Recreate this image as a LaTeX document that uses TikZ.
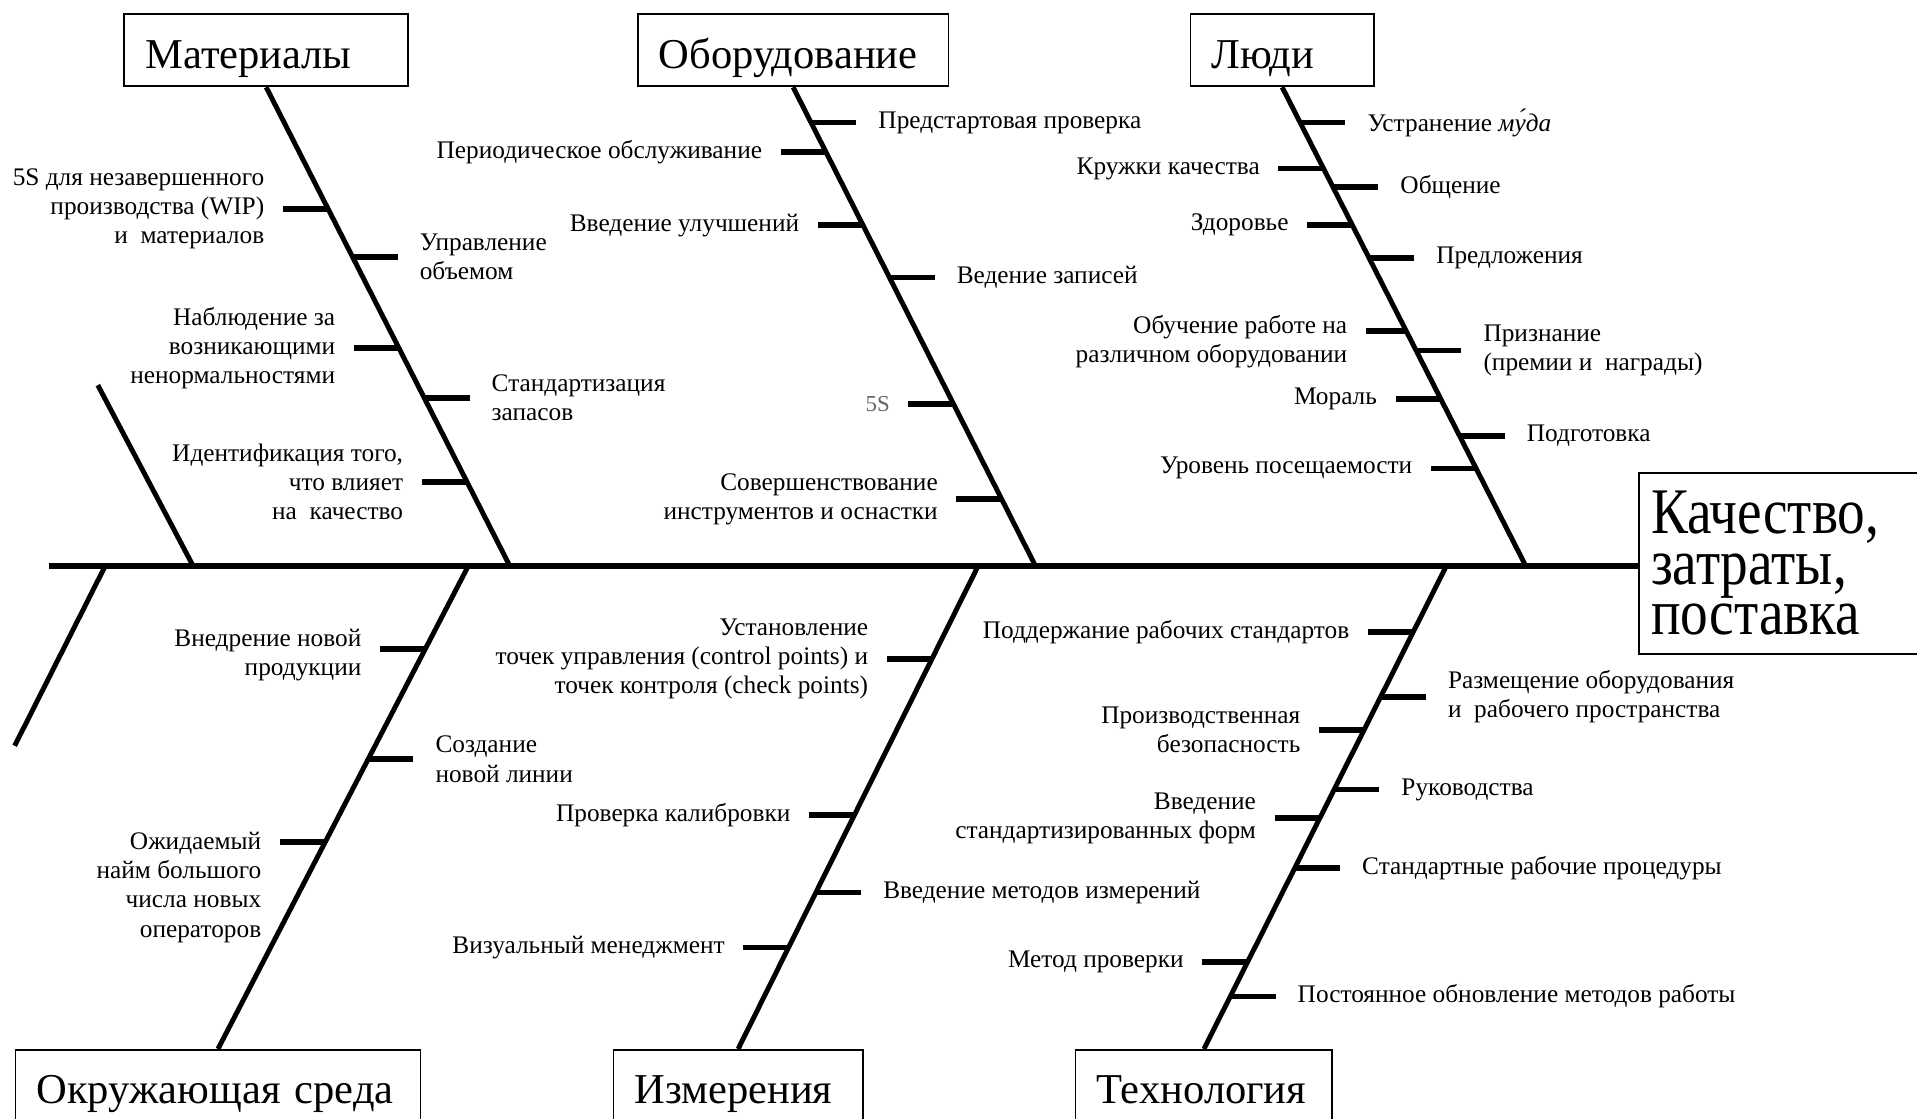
\documentclass[tikz,border=0pt]{standalone}
\usepackage{fontspec}
\setmainfont{Liberation Serif}
\newfontfamily\efffont{Liberation Serif}[FakeStretch=0.85]
\usetikzlibrary{positioning,calc}

\begin{document}
\begin{tikzpicture}[
    x=0.012226cm, y=-0.012226cm,
    spine/.style={line width=1.9pt},
    bone/.style={line width=1.4pt},
    rib/.style={line width=1.6pt},
    catbox/.style={draw, line width=0.5pt, anchor=north west, minimum height=0.72cm, inner xsep=0.21cm, inner ysep=0pt, text height=0.38cm, text depth=0.02cm, align=left, font=\fontsize{12.1}{14}\selectfont},
    lbl/.style={inner ysep=0pt, font=\fontsize{7.2}{8.3}\selectfont},
    lblL/.style={lbl, left, inner xsep=4.5pt, align=right},
    lblR/.style={lbl, right, inner xsep=5.5pt, align=left}
  ]
    \useasboundingbox (0,0) rectangle (1568,915);
    \clip (0,0) rectangle (1568,915);

    \node[catbox, text width=2.416cm] (mat)  at (101,11)  {Материалы};
    \node[catbox, text width=2.685cm] (equ)  at (521,11)  {Оборудование};
    \node[catbox, text width=1.414cm] (ppl)  at (973,11)  {Люди};
    \node[catbox, text width=3.627cm] (env)  at (12,858)  {Окружающая среда};
    \node[catbox, text width=2.074cm] (meas) at (501,858) {Измерения};
    \node[catbox, text width=2.147cm] (tech) at (879,858) {Технология};

    \node[draw, line width=0.5pt, anchor=north west, text width=3cm, minimum height=1.81cm, inner xsep=0.12cm, inner ysep=0pt, align=left, font={\efffont\fontsize{18.5}{14.4}\selectfont}] (eff) at (1340,386) {Качество,\\затраты,\\поставка};

    \coordinate (tail) at (40,463);
    \coordinate (jMat)  at (417,463);
    \coordinate (jEqu)  at (847,463);
    \coordinate (jPpl)  at (1248,463);
    \coordinate (jEnv)  at (383,463);
    \coordinate (jMeas) at (800,463);
    \coordinate (jTech) at (1183,463);
    \coordinate (finA) at (80,315);
    \coordinate (finB) at (158,463);
    \coordinate (finC) at (86,463);
    \coordinate (finD) at (12,610);

    \draw[spine] (tail) -- (tail -| eff.west);
    \draw[bone] (finA) -- (finB);
    \draw[bone] (finC) -- (finD);

    \draw[bone] (mat.south) -- (jMat);
    \draw[bone] (equ.south) -- (jEqu);
    \draw[bone] (ppl.south) -- (jPpl);
    \draw[bone] (jEnv) -- (env.north);
    \draw[bone] (jMeas) -- (meas.north);
    \draw[bone] (jTech) -- (tech.north);

    \draw[rib] ($(mat.south)!0.254!(jMat)$) -- ++(-37,0) node[lblL] (mat1) {5S для незавершенного\\производства (WIP)\\и~~материалов};
    \draw[rib] ($(mat.south)!0.354!(jMat)$) -- ++(37,0)  node[lblR] (mat2) {Управление\\объемом};
    \draw[rib] ($(mat.south)!0.545!(jMat)$) -- ++(-37,0) node[lblL] (mat3) {Наблюдение за\\возникающими\\ненормальностями};
    \draw[rib] ($(mat.south)!0.649!(jMat)$) -- ++(37,0)  node[lblR] (mat4) {Стандартизация\\запасов};
    \draw[rib] ($(mat.south)!0.824!(jMat)$) -- ++(-37,0) node[lblL] (mat5) {Идентификация того,\\что влияет\\на~~качество};

    \draw[rib] ($(equ.south)!0.074!(jEqu)$) -- ++(37,0)  node[lblR] (equ1) {Предстартовая проверка};
    \draw[rib] ($(equ.south)!0.135!(jEqu)$) -- ++(-37,0) node[lblL] (equ2) {Периодическое обслуживание};
    \draw[rib] ($(equ.south)!0.288!(jEqu)$) -- ++(-37,0) node[lblL] (equ3) {Введение улучшений};
    \draw[rib] ($(equ.south)!0.397!(jEqu)$) -- ++(37,0)  node[lblR] (equ4) {Ведение записей};
    \draw[rib] ($(equ.south)!0.662!(jEqu)$) -- ++(-37,0) node[lblL, font=\fontsize{6.5}{8}\selectfont, text=black!60] (equ5) {5S};
    \draw[rib] ($(equ.south)!0.860!(jEqu)$) -- ++(-37,0) node[lblL] (equ6) {Совершенствование\\инструментов и оснастки};

    \draw[rib] ($(ppl.south)!0.074!(jPpl)$) -- ++(37,0)  node[lblR] (ppl1) {Устранение \textit{му́да}};
    \draw[rib] ($(ppl.south)!0.170!(jPpl)$) -- ++(-37,0) node[lblL] (ppl2) {Кружки качества};
    \draw[rib] ($(ppl.south)!0.209!(jPpl)$) -- ++(37,0)  node[lblR] (ppl3) {Общение};
    \draw[rib] ($(ppl.south)!0.288!(jPpl)$) -- ++(-37,0) node[lblL] (ppl4) {Здоровье};
    \draw[rib] ($(ppl.south)!0.356!(jPpl)$) -- ++(37,0)  node[lblR] (ppl5) {Предложения};
    \draw[rib] ($(ppl.south)!0.509!(jPpl)$) -- ++(-33,0) node[lblL, yshift=-3pt] (ppl6) {Обучение работе на\\различном оборудовании};
    \draw[rib] ($(ppl.south)!0.550!(jPpl)$) -- ++(37,0)  node[lblR] (ppl7) {Признание\\(премии и~~награды)};
    \draw[rib] ($(ppl.south)!0.651!(jPpl)$) -- ++(-37,0) node[lblL] (ppl8) {Мораль};
    \draw[rib] ($(ppl.south)!0.728!(jPpl)$) -- ++(37,0)  node[lblR] (ppl9) {Подготовка};
    \draw[rib] ($(ppl.south)!0.796!(jPpl)$) -- ++(-37,0) node[lblL] (ppl10) {Уровень посещаемости};

    \draw[rib] ($(jEnv)!0.172!(env.north)$) -- ++(-37,0) node[lblL, yshift=-1.7pt] (env1) {Внедрение новой\\продукции};
    \draw[rib] ($(jEnv)!0.400!(env.north)$) -- ++(37,0)  node[lblR] (env2) {Создание\\новой линии};
    \draw[rib] ($(jEnv)!0.572!(env.north)$) -- ++(-37,0) node[lblL, yshift=-0.45cm] (env3) {Ожидаемый\\найм большого\\числа новых\\операторов};

    \draw[rib] ($(jMeas)!0.192!(meas.north)$) -- ++(-37,0) node[lblL] (meas1) {Установление\\точек управления (control points) и\\точек контроля (check points)};
    \draw[rib] ($(jMeas)!0.516!(meas.north)$) -- ++(-37,0) node[lblL] (meas2) {Проверка калибровки};
    \draw[rib] ($(jMeas)!0.676!(meas.north)$) -- ++(37,0)  node[lblR] (meas3) {Введение методов измерений};
    \draw[rib] ($(jMeas)!0.790!(meas.north)$) -- ++(-37,0) node[lblL] (meas4) {Визуальный менеджмент};

    \draw[rib] ($(jTech)!0.137!(tech.north)$) -- ++(-37,0) node[lblL] (tech1) {Поддержание рабочих стандартов};
    \draw[rib] ($(jTech)!0.271!(tech.north)$) -- ++(37,0)  node[lblR] (tech2) {Размещение оборудования\\и~~рабочего пространства};
    \draw[rib] ($(jTech)!0.339!(tech.north)$) -- ++(-37,0) node[lblL] (tech3) {Производственная\\безопасность};
    \draw[rib] ($(jTech)!0.463!(tech.north)$) -- ++(37,0)  node[lblR] (tech4) {Руководства};
    \draw[rib] ($(jTech)!0.522!(tech.north)$) -- ++(-37,0) node[lblL] (tech5) {Введение\\стандартизированных форм};
    \draw[rib] ($(jTech)!0.625!(tech.north)$) -- ++(37,0)  node[lblR] (tech6) {Стандартные рабочие процедуры};
    \draw[rib] ($(jTech)!0.820!(tech.north)$) -- ++(-37,0) node[lblL] (tech7) {Метод проверки};
    \draw[rib] ($(jTech)!0.891!(tech.north)$) -- ++(37,0)  node[lblR] (tech8) {Постоянное обновление методов работы};
  \end{tikzpicture}
\end{document}
